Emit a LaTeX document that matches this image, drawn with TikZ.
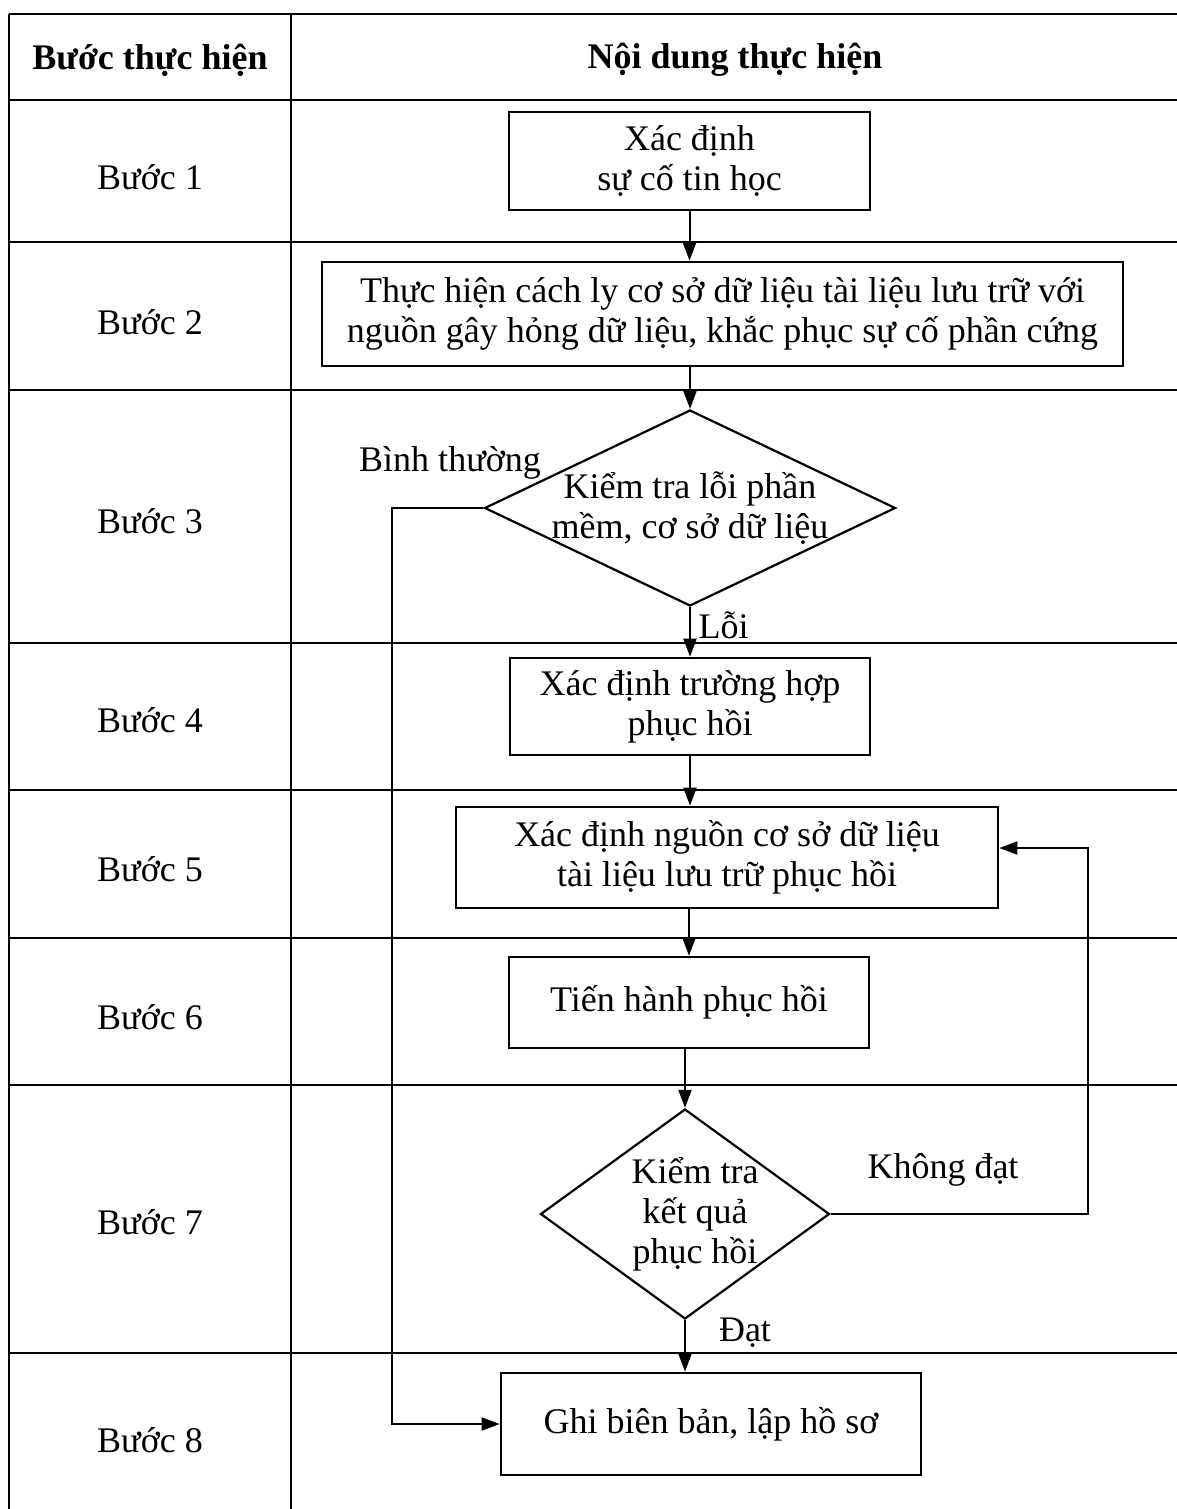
\documentclass[tikz,border=0pt]{standalone}
\usepackage{fontspec}
\setmainfont{Liberation Serif}
\usepackage{tikz}
\usetikzlibrary{arrows.meta,shapes.geometric,positioning}

\begin{document}
\begin{tikzpicture}[x=1pt,y=-1pt,
  every node/.style={font=\fontsize{36}{40}\selectfont},
  kopf/.style={font=\bfseries\fontsize{36}{40}\selectfont},
  tabelle/.style={line width=1.6pt},
  kasten/.style={draw,line width=2.6pt,align=center,inner sep=0pt},
  raute/.style={draw,diamond,line width=2.2pt,inner sep=0pt},
  pfeil/.style={line width=2pt,-{Triangle[length=18pt,width=13pt]}}]
%Alle Masse in Pixeln der Vorlage (1px = 1pt), y zeigt nach unten
\useasboundingbox (0,0) rectangle (1177,1509);
%Tabelle
\foreach \zeile in {14,100,242,390,643,790,938,1085,1353}{
\draw[tabelle] (9,\zeile) -- (1177,\zeile);
}
\draw[tabelle] (9,14) -- (9,1509);
\draw[tabelle] (291,14) -- (291,1509);
\node[kopf] (kopfL) at (150,60) {Bước thực hiện};
\node[kopf] (kopfR) at (735,60) {Nội dung thực hiện};
\foreach \nr/\zeile in {1/177,2/322,3/521,4/720,5/869,6/1017,7/1222,8/1440}{
\node (schritt\nr) at (150,\zeile) {Bước \nr};
}
%Ablauf
\node[kasten,minimum width=361pt,minimum height=98pt] (k1) at (689.5,161) {Xác định\\sự cố tin học};
\node[kasten,minimum width=801pt,minimum height=104pt] (k2) at (722.5,314) {Thực hiện cách ly cơ sở dữ liệu tài liệu lưu trữ với\\nguồn gây hỏng dữ liệu, khắc phục sự cố phần cứng};
\node[raute,minimum width=411pt,minimum height=196pt] (d1) at (690,508) {};
\node[align=center] (d1text) at (d1) {Kiểm tra lỗi phần\\mềm, cơ sở dữ liệu};
\node[kasten,minimum width=360pt,minimum height=97pt] (k4) at (690,706.5) {Xác định trường hợp\\phục hồi};
\node[kasten,minimum width=542pt,minimum height=101pt] (k5) at (727,857.5) {Xác định nguồn cơ sở dữ liệu\\tài liệu lưu trữ phục hồi};
\node[kasten,minimum width=360pt,minimum height=91pt] (k6) at (689,1002.5) {Tiến hành phục hồi};
\node[raute,minimum width=289pt,minimum height=210pt] (d2) at (685,1214) {};
\node[align=center] (d2text) at ([xshift=10pt]d2) {Kiểm tra\\kết quả\\phục hồi};
\node[kasten,minimum width=420pt,minimum height=102pt] (k8) at (711,1424) {Ghi biên bản, lập hồ sơ};
\coordinate (links) at (392,508);
\coordinate (rechtsU) at (1088,1214);
\coordinate (rechtsO) at (1088,848);
\draw[pfeil] (k1.south) -- (k1.south |- k2.north);
\draw[pfeil] (d1.north |- k2.south) -- (d1.north);
\draw[pfeil] (d1.south) -- (d1.south |- k4.north);
\draw[pfeil] (k4.south) -- (k4.south |- k5.north);
\draw[pfeil] (k6.north |- k5.south) -- (k6.north);
\draw[pfeil] (d2.north |- k6.south) -- (d2.north);
\draw[pfeil] (d2.south) -- (d2.south |- k8.north);
\draw[pfeil] (d1.west) -- (links) |- (k8.west);
\draw[pfeil] (d2.east) -- (rechtsU) -- (rechtsO) -- (k5.east |- rechtsO);
\node (binh) at (450,463) {Bình thường};
\node[anchor=west] (loi) at (695,625) {Lỗi};
\node (khongdat) at (943,1170) {Không đạt};
\node (dat) at (745,1333) {Đạt};
\end{tikzpicture}
\end{document}
